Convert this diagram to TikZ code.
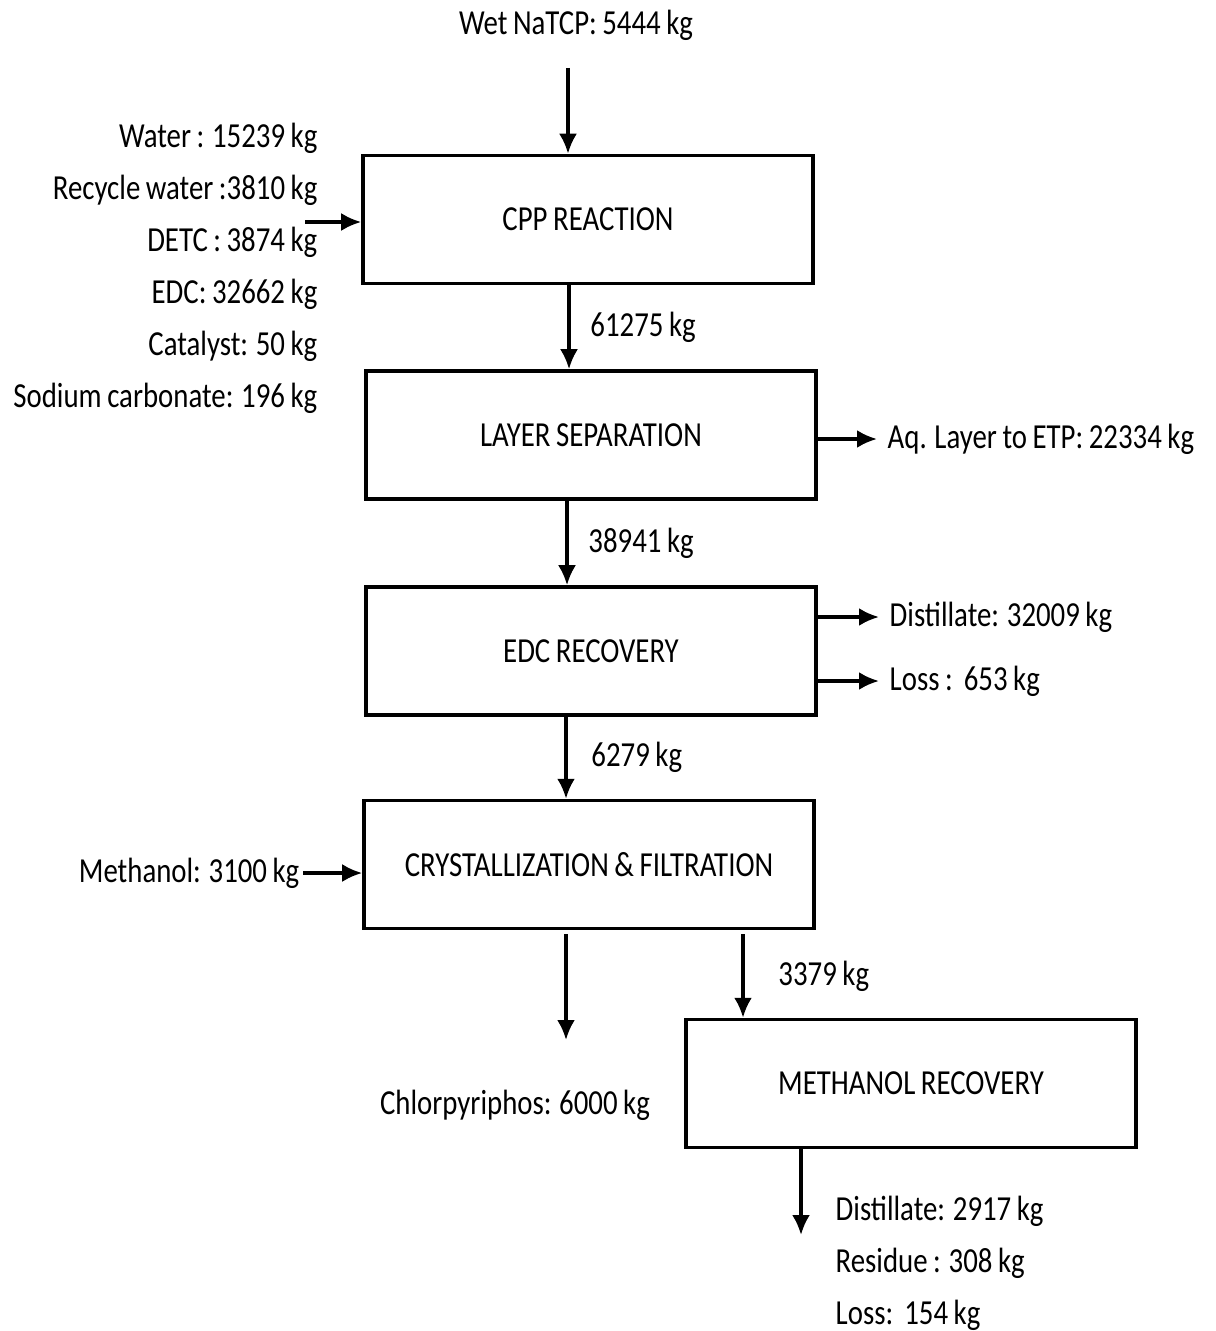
\documentclass[tikz,border=0pt]{standalone}
\usepackage{fontspec}
\setmainfont{Carlito}[FakeStretch=0.82, WordSpace=0.85]
\usetikzlibrary{calc,positioning,arrows.meta}

\tikzset{
  unit/.style={draw, line width=1pt, minimum width=4.5cm, minimum height=1.28cm, inner sep=0pt},
  flow/.style={line width=1pt, -{Latex[length=2mm, width=1.8mm]}},
  stream/.style={inner sep=1mm},
}

\begin{document}
\begin{tikzpicture}[font=\fontsize{10}{14.8}\selectfont]
\useasboundingbox (0,0) rectangle (12.16,-13.31);

% process units
\node[unit] (cpp)  at (5.88,-2.195) {CPP REACTION};
\node[unit] (sep)  at (5.91,-4.35)  {LAYER SEPARATION};
\node[unit] (edc)  at (5.91,-6.51)  {EDC RECOVERY};
\node[unit] (cry)  at (5.89,-8.645) {CRYSTALLIZATION \& FILTRATION};
\node[unit] (mrec) at (9.11,-10.835) {METHANOL RECOVERY};

% streams
\node[stream] (natcp) at (5.76,-0.25) {Wet NaTCP: 5444 kg};
\node[stream, anchor=east, align=right] (feed) at (3.28,-2.68)
  {Water : 15239 kg\\Recycle water :3810 kg\\DETC : 3874 kg\\EDC: 32662 kg\\Catalyst: 50 kg\\Sodium carbonate: 196 kg};
\node[stream, anchor=west] (aq)   at (8.77,-4.39) {Aq. Layer to ETP: 22334 kg};
\node[stream, anchor=west] (dist) at (8.79,-6.17) {Distillate: 32009 kg};
\node[stream, anchor=west] (loss) at (8.79,-6.81) {Loss :\ \ 653 kg};
\node[stream, anchor=east, inner sep=0.3mm] (meoh) at (3.03,-8.73) {Methanol: 3100 kg};
\node[stream] (cpf) at (5.15,-11.05) {Chlorpyriphos: 6000 kg};
\node[stream, anchor=west, align=left] (mout) at (8.25,-12.63)
  {Distillate: 2917 kg\\Residue : 308 kg\\Loss:\ \ 154 kg};

\coordinate (natcpout) at (5.68,-0.68);
\coordinate (feedin)   at (3.05,-2.22);
\coordinate (cpfend)   at (5.66,-10.40);
\coordinate (mrecend)  at (8.01,-12.35);

% connectors
\draw[flow] (natcpout) -- (natcpout |- cpp.north);
\draw[flow] (feedin) -- (feedin -| cpp.west);
\draw[flow] ([xshift=-1.9mm]cpp.south) -- ([xshift=-1.9mm]cpp.south |- sep.north)
  node[midway, right=0.8mm] {61275 kg};
\draw[flow] (aq.west -| sep.east) -- (aq.west);
\draw[flow] ([xshift=-2.4mm]sep.south) -- ([xshift=-2.4mm]sep.south |- edc.north)
  node[midway, right=0.8mm] {38941 kg};
\draw[flow] (dist.west -| edc.east) -- (dist.west);
\draw[flow] (loss.west -| edc.east) -- (loss.west);
\draw[flow] ([xshift=-2.5mm]edc.south) -- ([xshift=-2.5mm]edc.south |- cry.north)
  node[midway, right=1.2mm] {6279 kg};
\draw[flow] (meoh.east) -- (meoh.east -| cry.west);
\draw[flow] (cpfend |- cry.south) ++(0,-0.04) -- (cpfend);
\draw[flow] ([xshift=15.4mm,yshift=-0.4mm]cry.south) -- ([xshift=15.4mm]cry.south |- mrec.north)
  node[midway, right=2.2mm] {3379 kg};
\draw[flow] (mrecend |- mrec.south) -- (mrecend);
\end{tikzpicture}
\end{document}
